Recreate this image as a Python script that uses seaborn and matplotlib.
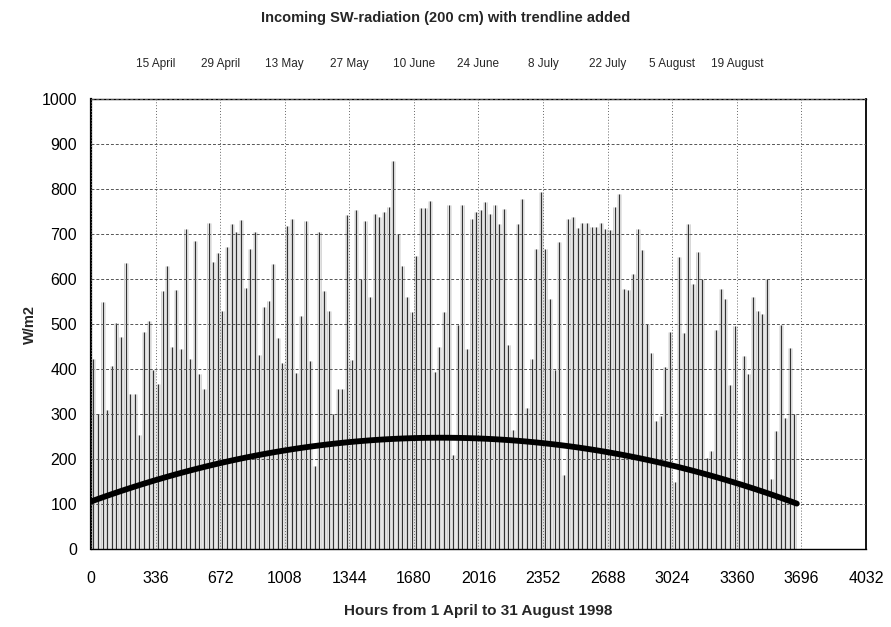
import numpy as np
import pandas as pd
import matplotlib
matplotlib.use("Agg")
import matplotlib.pyplot as plt
import seaborn as sns

# Daily peak of incoming SW radiation (W/m2), 1 April .. 31 August 1998 (153 days)
daily_peak = [
    422, 299, 548, 310, 407, 503, 471, 635, 345, 345,
    253, 483, 507, 397, 366, 574, 630, 448, 575, 444,
    711, 422, 684, 388, 355, 724, 637, 657, 529, 671,
    722, 705, 731, 581, 666, 705, 431, 538, 552, 633,
    468, 414, 718, 733, 392, 518, 729, 418, 184, 705,
    574, 528, 299, 355, 355, 742, 420, 753, 600, 730,
    560, 744, 737, 748, 759, 863, 700, 629, 560, 526,
    652, 758, 757, 773, 394, 450, 526, 764, 209, 497,
    765, 445, 733, 750, 753, 772, 744, 765, 722, 756,
    453, 265, 722, 778, 313, 423, 667, 793, 667, 556,
    397, 683, 165, 733, 737, 713, 724, 724, 715, 715,
    724, 711, 710, 759, 789, 578, 576, 611, 712, 664,
    500, 435, 284, 295, 405, 482, 150, 650, 479, 723,
    589, 660, 600, 203, 218, 486, 578, 556, 365, 495,
    150, 429, 390, 560, 530, 523, 600, 155, 262, 497,
    291, 446, 300,
]

# Trendline readings (hour, W/m2)
trend_hours = [0, 336, 672, 1008, 1344, 1680, 2016, 2352, 2688, 3024, 3360, 3672]
trend_values = [102, 156, 195, 216, 237, 248, 246, 233, 214, 186, 147, 101]

x_ticks = [0, 336, 672, 1008, 1344, 1680, 2016, 2352, 2688, 3024, 3360, 3696, 4032]
y_ticks = [0, 100, 200, 300, 400, 500, 600, 700, 800, 900, 1000]
date_hours = [336, 672, 1008, 1344, 1680, 2016, 2352, 2688, 3024, 3360]
date_labels = ["15 April", "29 April", "13 May", "27 May", "10 June", "24 June",
               "8 July", "22 July", "5 August", "19 August"]

sns.set_theme(style="white")
plt.rcParams["font.family"] = ["Liberation Sans", "DejaVu Sans"]

W, H = 891, 627
fig = plt.figure(figsize=(W / 100, H / 100), dpi=100)
ax = fig.add_axes([91 / W, 1 - 549 / H, 775 / W, 450 / H])

df = pd.DataFrame({"hour": np.arange(len(daily_peak)) * 24 + 12, "peak": daily_peak})

# stippled day columns + dark spike per day
ax.vlines(df["hour"], 0, df["peak"], color="#e3e3e3", lw=3.4, zorder=1)
ax.vlines(df["hour"] - 6, 0, df["peak"], color="#c8c8c8", lw=0.5, zorder=1.5)
ax.vlines(df["hour"] + 6, 0, df["peak"], color="#d2d2d2", lw=0.5, zorder=1.5)
ax.vlines(df["hour"], 0, df["peak"], color="#2e2e2e", lw=0.7, zorder=2)

tr = pd.DataFrame({"hour": trend_hours, "wm2": trend_values})
sns.regplot(data=tr, x="hour", y="wm2", order=2, ci=None, scatter=False, ax=ax,
            line_kws=dict(color="black", lw=4.2, zorder=5))

ax.set_xlim(0, 4032)
ax.set_ylim(0, 1000)
ax.set_xticks(x_ticks)
ax.set_yticks(y_ticks)
ax.set_xlabel("")
ax.set_ylabel("")
ax.tick_params(axis="both", length=0, labelsize=11.5, colors="black")
ax.tick_params(axis="x", pad=16)
ax.tick_params(axis="y", pad=10)

ax.set_axisbelow(False)
ax.yaxis.grid(True, color="#555555", lw=0.7, linestyle=(0, (3, 2)), zorder=3)
ax.xaxis.grid(True, color="#666666", lw=0.7, linestyle=(0, (1, 2)), zorder=3)

for side in ["left", "right", "top", "bottom"]:
    ax.spines[side].set_visible(True)
    ax.spines[side].set_color("black")
ax.spines["left"].set_linewidth(1.6)
ax.spines["right"].set_linewidth(1.3)
ax.spines["top"].set_linewidth(1.0)
ax.spines["bottom"].set_linewidth(1.0)

sec = ax.secondary_xaxis("top")
sec.set_xticks(date_hours)
sec.set_xticklabels(date_labels)
sec.tick_params(length=0, pad=21, labelsize=8.5)
sec.spines["top"].set_visible(False)

fig.text(0.5, 1 - 18 / H, "Incoming SW-radiation (200 cm) with trendline added",
         ha="center", va="center", fontsize=10.5, fontweight="bold")
fig.text((91 + 775 / 2) / W, 1 - 611 / H,
         "Hours from 1 April to 31 August 1998",
         ha="center", va="center", fontsize=11, fontweight="bold")
fig.text(30 / W, 1 - 324 / H, "W/m2", ha="center", va="center", rotation=90,
         fontsize=10.5, fontweight="bold")

fig.savefig("out.png", dpi=100)
